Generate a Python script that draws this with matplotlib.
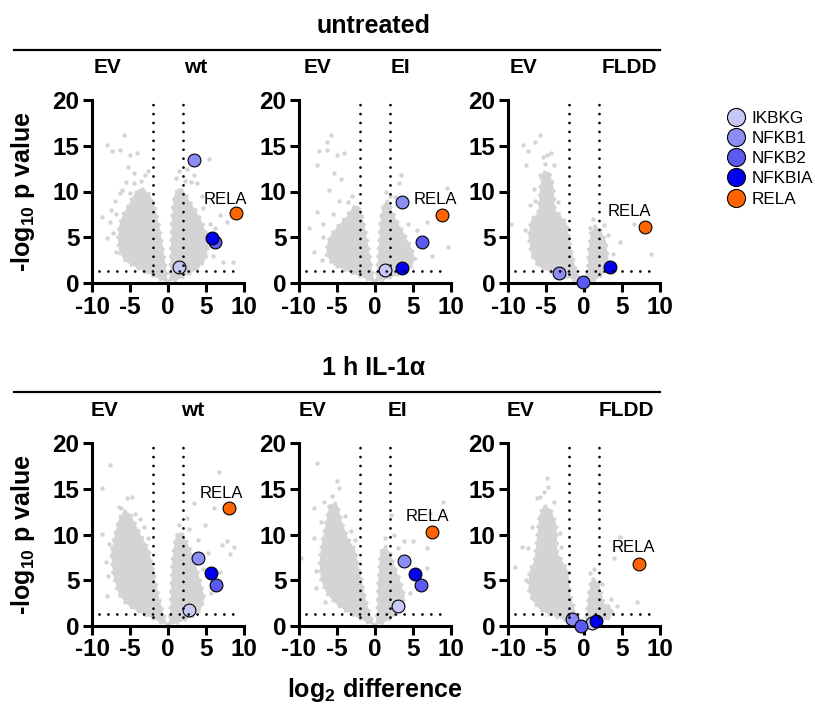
import matplotlib
matplotlib.use("Agg")
import matplotlib.pyplot as plt
from matplotlib.lines import Line2D

plt.rcParams.update({
    "font.family": ["Liberation Sans", "DejaVu Sans"],
    "axes.unicode_minus": False,
    "mathtext.fontset": "custom",
    "mathtext.rm": "Liberation Sans:bold",
    "mathtext.it": "Liberation Sans:bold",
    "mathtext.bf": "Liberation Sans:bold",
})

# ---------------------------------------------------------------- data
proteins = ["IKBKG", "NFKB1", "NFKB2", "NFKBIA", "RELA"]
protein_colors = ["#c8c8f8", "#8c8cf5", "#5a5af0", "#0000f0", "#ff6400"]

conditions = ["untreated", "1 h IL-1\u03b1"]
constructs = ["wt", "EI", "FLDD"]
control = "EV"

x_ticks = [-10, -5, 0, 5, 10]
y_ticks = [0, 5, 10, 15, 20]
fc_cutoff = 2.0          # |log2 difference|
p_cutoff = 1.3           # -log10(0.05)

# highlighted proteins (order as in `proteins`): log2 difference, -log10 p
nan = float("nan")
hl_x_untr_wt = [1.5, 3.4, 6.2, 5.8, 8.95]
hl_y_untr_wt = [1.8, 13.4, 4.5, 4.9, 7.65]
hl_x_untr_ei = [1.3, 3.6, 6.2, 3.6, 8.8]
hl_y_untr_ei = [1.4, 8.8, 4.5, 1.6, 7.4]
hl_x_untr_fldd = [nan, -3.25, -0.15, 3.4, 7.97]
hl_y_untr_fldd = [nan, 1.05, 0.15, 1.8, 6.1]
hl_x_il1_wt = [2.7, 3.95, 6.27, 5.7, 8.07]
hl_y_il1_wt = [1.8, 7.4, 4.5, 5.8, 12.9]
hl_x_il1_ei = [3.07, 3.8, 6.0, 5.2, 7.54]
hl_y_il1_ei = [2.2, 7.1, 4.5, 5.7, 10.3]
hl_x_il1_fldd = [1.04, -1.6, -0.4, 1.57, 7.2]
hl_y_il1_fldd = [0.33, 0.77, 0.04, 0.6, 6.8]

# dense part of the protein cloud: outline of the down- and up-regulated lobes
dn_x_untr_wt = [0.0, -1.0, -2.5, -4.0, -5.5, -6.4, -6.6, -6.4, -5.9, -5.2, -4.5, -3.8, -3.0, -2.2, -1.6, -1.1, -0.6, -0.2]
dn_y_untr_wt = [0.0, 0.4, 1.0, 1.6, 2.3, 3.3, 4.8, 6.3, 7.5, 8.5, 9.6, 10.3, 10.2, 9.4, 8.0, 6.0, 3.5, 1.2]
up_x_untr_wt = [0.1, 0.3, 0.4, 0.5, 0.8, 1.4, 2.1, 2.8, 3.6, 4.4, 5.0, 5.3, 5.0, 4.0, 2.6, 1.2]
up_y_untr_wt = [0.2, 1.5, 4.0, 7.0, 9.5, 10.4, 10.0, 9.0, 8.0, 6.8, 5.5, 4.0, 2.6, 1.6, 0.9, 0.3]

dn_x_untr_ei = [0.0, -1.0, -2.5, -4.0, -5.5, -6.4, -6.3, -5.8, -4.8, -3.8, -3.0, -2.3, -1.7, -1.2, -0.7, -0.3]
dn_y_untr_ei = [0.0, 0.4, 0.9, 1.4, 2.0, 3.0, 4.3, 5.3, 6.3, 7.2, 8.2, 8.5, 7.5, 5.5, 3.2, 1.0]
up_x_untr_ei = [0.1, 0.3, 0.5, 0.7, 1.1, 1.7, 2.2, 3.0, 3.9, 4.8, 5.3, 4.6, 3.3, 1.8, 0.8]
up_y_untr_ei = [0.2, 1.5, 4.0, 6.8, 8.6, 9.0, 8.0, 6.6, 5.3, 3.8, 2.6, 1.6, 1.0, 0.5, 0.2]

dn_x_untr_fldd = [-0.3, -1.5, -3.0, -4.5, -6.0, -6.9, -7.3, -7.0, -6.0, -5.8, -5.5, -4.6, -4.0, -3.8, -3.0, -2.3, -1.8, -1.3, -0.8]
dn_y_untr_fldd = [0.0, 0.4, 0.8, 1.2, 1.8, 3.0, 5.0, 6.8, 7.8, 10.0, 12.0, 12.2, 10.5, 8.0, 7.3, 6.5, 4.2, 2.2, 0.8]
up_x_untr_fldd = [0.2, 0.5, 0.6, 0.9, 1.5, 2.2, 2.9, 3.2, 2.8, 1.8, 0.9]
up_y_untr_fldd = [0.1, 1.5, 3.5, 5.5, 6.3, 5.8, 4.5, 2.5, 1.2, 0.5, 0.1]

dn_x_il1_wt = [0.0, -1.0, -2.5, -4.0, -5.5, -6.5, -7.2, -7.5, -7.0, -6.5, -5.8, -5.0, -4.2, -3.3, -2.5, -1.9, -1.3, -0.7, -0.2]
dn_y_il1_wt = [0.0, 0.4, 1.0, 1.6, 2.4, 3.5, 5.5, 8.0, 10.0, 11.6, 12.6, 12.3, 11.0, 9.5, 8.3, 6.0, 3.5, 1.6, 0.3]
up_x_il1_wt = [0.1, 0.3, 0.4, 0.6, 1.0, 1.7, 2.3, 3.0, 3.6, 4.3, 4.8, 4.3, 3.2, 1.8, 0.8]
up_y_il1_wt = [0.2, 1.5, 4.0, 7.5, 9.8, 10.3, 9.5, 8.2, 6.8, 4.8, 3.0, 1.8, 1.0, 0.5, 0.2]

dn_x_il1_ei = [0.0, -1.0, -2.5, -4.0, -5.2, -6.3, -7.1, -7.3, -7.0, -6.5, -6.0, -5.0, -4.3, -3.5, -2.6, -1.9, -1.3, -0.7, -0.2]
dn_y_il1_ei = [0.0, 0.4, 1.0, 1.7, 2.5, 3.5, 5.0, 7.0, 9.0, 11.0, 13.3, 13.4, 11.2, 9.5, 8.3, 5.5, 3.2, 1.4, 0.3]
up_x_il1_ei = [0.1, 0.3, 0.4, 0.7, 1.3, 2.0, 2.6, 3.3, 3.9, 3.6, 2.6, 1.4, 0.6]
up_y_il1_ei = [0.2, 1.5, 4.5, 8.0, 8.8, 8.0, 6.5, 5.0, 3.3, 2.0, 1.1, 0.5, 0.2]

dn_x_il1_fldd = [-0.5, -1.5, -3.0, -4.5, -5.8, -6.8, -7.3, -7.2, -6.5, -6.2, -5.9, -5.3, -4.4, -3.6, -3.5, -2.8, -2.1, -1.8, -1.3, -0.9]
dn_y_il1_fldd = [0.0, 0.3, 0.8, 1.2, 1.8, 2.8, 4.0, 5.9, 7.2, 9.5, 12.0, 13.2, 12.8, 11.0, 8.0, 7.0, 6.0, 3.5, 2.0, 0.8]
up_x_il1_fldd = [0.2, 0.4, 0.6, 1.0, 1.6, 2.2, 2.6, 3.8, 3.5, 2.0, 0.9]
up_y_il1_fldd = [0.1, 1.5, 3.5, 5.2, 5.0, 4.0, 2.5, 1.8, 0.9, 0.4, 0.1]

# scattered proteins outside the dense cloud
sc_x_untr_wt = [-8.0, -5.8, -7.4, -6.3, -5.0, -4.1, -5.2, -4.5, -8.7, -8.0, -6.9, -7.5, -4.5, -6.3, -7.6,
                -7.0, -6.8, -7.2, -5.5, -6.0, -3.5, -3.0, -2.6, -5.0,
                5.35, 3.8, 3.4, 6.9, 7.8, 7.3, 8.6, 2.5, 4.5, 6.0,
                1.0, 1.5, 4.6, 5.5, 6.2, 3.0, 2.2, 5.9]
sc_y_untr_wt = [15.1, 16.2, 14.4, 14.5, 14.0, 14.2, 12.7, 12.0, 7.2, 4.9, 3.4, 8.0, 10.9, 9.8, 6.7,
                9.0, 7.5, 5.5, 11.0, 10.2, 11.2, 11.8, 12.2, 9.8,
                13.6, 10.9, 11.8, 7.4, 6.7, 2.3, 2.3, 12.5, 9.5, 5.5,
                11.5, 12.2, 8.2, 6.5, 6.0, 11.0, 11.2, 3.0]
sc_x_untr_ei = [-5.8, -6.3, -7.4, -6.3, -5.0, -4.1, -7.6, -5.4, -4.5, -7.6, -8.7, -8.0,
                -6.8, -6.9, -5.5, -4.8, -3.6, -3.0, -7.0, -6.0,
                3.4, 3.2, 9.5, 6.9, 9.6, 2.0, 5.5, 7.5, 1.5, 2.6, 4.4, 5.8]
sc_y_untr_ei = [16.2, 15.4, 14.4, 14.5, 14.0, 14.2, 12.9, 12.0, 11.4, 7.8, 6.0, 3.4,
                5.0, 6.5, 7.5, 9.0, 8.8, 9.5, 2.5, 10.2,
                11.8, 10.9, 10.4, 6.7, 3.9, 9.5, 5.8, 3.0, 10.0, 9.4, 6.4, 4.2]
sc_x_untr_fldd = [-8.0, -5.8, -6.5, -7.35, -7.6, -5.4, -4.9, -4.3, -4.0, -9.55, -5.8, -7.1,
                  -6.6, -5.1, -4.4, -7.8, -3.4, -6.4, -3.6,
                  8.8, 6.6, 2.6, 3.2, 4.8, 1.2, 3.8, 0.8]
sc_y_untr_fldd = [15.1, 16.2, 15.4, 14.4, 12.9, 13.8, 14.0, 14.2, 12.9, 6.5, 11.8, 8.5,
                  10.3, 13.0, 11.2, 5.8, 8.8, 9.0, 6.8,
                  3.2, 6.5, 6.3, 5.2, 4.5, 7.0, 3.2, 6.0]
sc_x_il1_wt = [-7.6, -8.7, -8.7, -5.4, -4.7, -8.0, -7.1, -6.5,
               -7.8, -7.9, -6.2, -4.4, -3.2, -2.6, -3.7, -8.2,
               6.7, 6.0, 7.1, 8.2, 6.9, 3.4, 4.9, 2.5, 8.7, 7.8,
               1.4, 2.8, 4.0, 5.2, 5.6, 4.6]
sc_y_il1_wt = [17.6, 15.1, 10.1, 14.0, 14.1, 3.3, 7.7, 13.0,
               9.0, 5.5, 12.9, 12.2, 10.8, 9.6, 11.7, 7.0,
               16.8, 12.9, 8.8, 7.9, 5.9, 13.4, 11.0, 11.8, 8.6, 9.3,
               11.0, 10.6, 9.4, 8.0, 3.6, 6.2]
sc_x_il1_ei = [-7.6, -5.0, -4.7, -8.0, -9.7, -6.7, -7.1, -8.0,
               -7.7, -7.8, -5.6, -4.0, -3.2, -6.6, -2.6,
               8.9, 7.3, 2.1, 6.9, 2.5, 3.8, 6.9, 5.0,
               1.3, 3.0, 4.6, 4.4]
sc_y_il1_ei = [17.8, 15.8, 15.1, 12.9, 7.4, 13.6, 11.4, 9.6,
               6.0, 4.2, 14.2, 12.0, 10.4, 2.6, 9.4,
               13.5, 12.3, 12.1, 6.3, 10.0, 9.3, 8.5, 9.3,
               9.6, 8.5, 3.6, 6.8]
sc_x_il1_fldd = [-4.9, -4.7, -5.8, -9.1, -8.2, -7.35, -6.25,
                 -7.6, -6.9, -5.2, -4.0, -3.2, -3.0, -6.8, -2.5,
                 4.8, 3.9, 7.0, 4.35, 3.0, 1.3, 2.4, 0.8, 3.6]
sc_y_il1_fldd = [16.2, 15.2, 14.1, 6.4, 8.6, 8.5, 14.0,
                 5.0, 10.8, 14.6, 13.6, 10.2, 8.6, 3.2, 4.6,
                 9.7, 7.4, 2.6, 2.2, 2.2, 6.2, 4.6, 5.8, 3.0]

panels = [
    [  # untreated
        (dn_x_untr_wt, dn_y_untr_wt, up_x_untr_wt, up_y_untr_wt, sc_x_untr_wt, sc_y_untr_wt, hl_x_untr_wt, hl_y_untr_wt),
        (dn_x_untr_ei, dn_y_untr_ei, up_x_untr_ei, up_y_untr_ei, sc_x_untr_ei, sc_y_untr_ei, hl_x_untr_ei, hl_y_untr_ei),
        (dn_x_untr_fldd, dn_y_untr_fldd, up_x_untr_fldd, up_y_untr_fldd, sc_x_untr_fldd, sc_y_untr_fldd, hl_x_untr_fldd, hl_y_untr_fldd),
    ],
    [  # IL-1a
        (dn_x_il1_wt, dn_y_il1_wt, up_x_il1_wt, up_y_il1_wt, sc_x_il1_wt, sc_y_il1_wt, hl_x_il1_wt, hl_y_il1_wt),
        (dn_x_il1_ei, dn_y_il1_ei, up_x_il1_ei, up_y_il1_ei, sc_x_il1_ei, sc_y_il1_ei, hl_x_il1_ei, hl_y_il1_ei),
        (dn_x_il1_fldd, dn_y_il1_fldd, up_x_il1_fldd, up_y_il1_fldd, sc_x_il1_fldd, sc_y_il1_fldd, hl_x_il1_fldd, hl_y_il1_fldd),
    ],
]

# ---------------------------------------------------------------- layout
W, H = 815, 704
GRAY = "#d4d4d4"
ax_left_px = [92, 299, 508]
ax_w_px = 152
row_top_px = [100, 443]
ax_h_px = 183
header_y_px = [26, 368]
rule_y_px = [50, 392]
# text positions (data x) of the two group names and the RELA tag per panel
group_lbl_x = [[(-7.9, 3.7), (-7.6, 3.3), (-8.0, 6.0)],
               [(-8.3, 3.2), (-8.2, 2.9), (-8.4, 5.6)]]
rela_lbl_xy = [[(7.6, 9.1), (7.9, 9.1), (6.0, 7.8)],
               [(7.0, 14.5), (6.85, 12.0), (6.55, 8.6)]]

fig = plt.figure(figsize=(W / 100, H / 100), dpi=100)

dot_style = dict(color="black", lw=2.0, dashes=(0.01, 3.2), dash_capstyle="round",
                 zorder=5, clip_on=False)
# speckled rim around the dense cloud
rim_style = dict(color=GRAY, lw=2.8, dashes=(0.01, 2.1), dash_capstyle="round",
                 zorder=1, clip_on=False)

for r in range(2):
    for c in range(3):
        dn_x, dn_y, up_x, up_y, sc_x, sc_y, hx, hy = panels[r][c]
        ax = fig.add_axes([ax_left_px[c] / W, 1 - (row_top_px[r] + ax_h_px) / H,
                           ax_w_px / W, ax_h_px / H])
        for px, py in ((dn_x, dn_y), (up_x, up_y)):
            ax.fill(px, py, color=GRAY, lw=0, zorder=1, clip_on=False)
            ax.plot(list(px) + [px[0]], list(py) + [py[0]], **rim_style)
        ax.scatter(sc_x, sc_y, s=10, color=GRAY, lw=0, zorder=1, clip_on=False)
        for x, y, col in zip(hx, hy, protein_colors):
            ax.scatter([x], [y], s=85, color=col, edgecolors="black", linewidths=0.8,
                       zorder=3, clip_on=False)
        ax.plot([-fc_cutoff, -fc_cutoff], [0, 20], **dot_style)
        ax.plot([fc_cutoff, fc_cutoff], [0, 20], **dot_style)
        ax.plot([-9.1, 9.6], [p_cutoff, p_cutoff], **dot_style)

        lx, ly = rela_lbl_xy[r][c]
        ax.text(lx, ly, "RELA", fontsize=12, ha="center", va="center", zorder=6)

        gl, gr = group_lbl_x[r][c]
        trans = ax.get_xaxis_transform()
        ax.text(gl, 1.175, control, transform=trans, fontsize=15, fontweight="bold",
                ha="center", va="center")
        ax.text(gr, 1.175, constructs[c], transform=trans, fontsize=15, fontweight="bold",
                ha="center", va="center")

        ax.set_xlim(-10, 10)
        ax.set_ylim(0, 20)
        ax.set_xticks(x_ticks)
        ax.set_yticks(y_ticks)
        for s in ("top", "right"):
            ax.spines[s].set_visible(False)
        for s in ("left", "bottom"):
            ax.spines[s].set_linewidth(2.2)
            ax.spines[s].set_capstyle("projecting")
        ax.tick_params(width=2.2, length=6.5, labelsize=17.5, pad=2.5)
        for lab in ax.get_xticklabels() + ax.get_yticklabels():
            lab.set_fontweight("bold")

    fig.text(374 / W, 1 - header_y_px[r] / H, conditions[r], fontsize=18,
             fontweight="bold", ha="center", va="center")
    fig.add_artist(Line2D([14 / W, 660 / W], [1 - rule_y_px[r] / H] * 2,
                          color="black", lw=1.6))
    fig.text(23 / W, 1 - (row_top_px[r] + ax_h_px / 2) / H,
             "-log$_{10}$ p value", rotation=90, fontsize=18, fontweight="bold",
             ha="center", va="center")

fig.text(375 / W, 1 - 690 / H, "log$_{2}$ difference", fontsize=18,
         fontweight="bold", ha="center", va="center")

handles = [Line2D([], [], ls="none", marker="o", markersize=13, markerfacecolor=col,
                  markeredgecolor="black", markeredgewidth=0.8)
           for col in protein_colors]
fig.legend(handles, proteins, loc="upper left", bbox_to_anchor=(727 / W, 1 - 111 / H),
           frameon=False, fontsize=12.3, handlelength=1.1, handletextpad=0.35,
           labelspacing=0.3, borderpad=0, borderaxespad=0)

fig.savefig("out.png", dpi=100)
